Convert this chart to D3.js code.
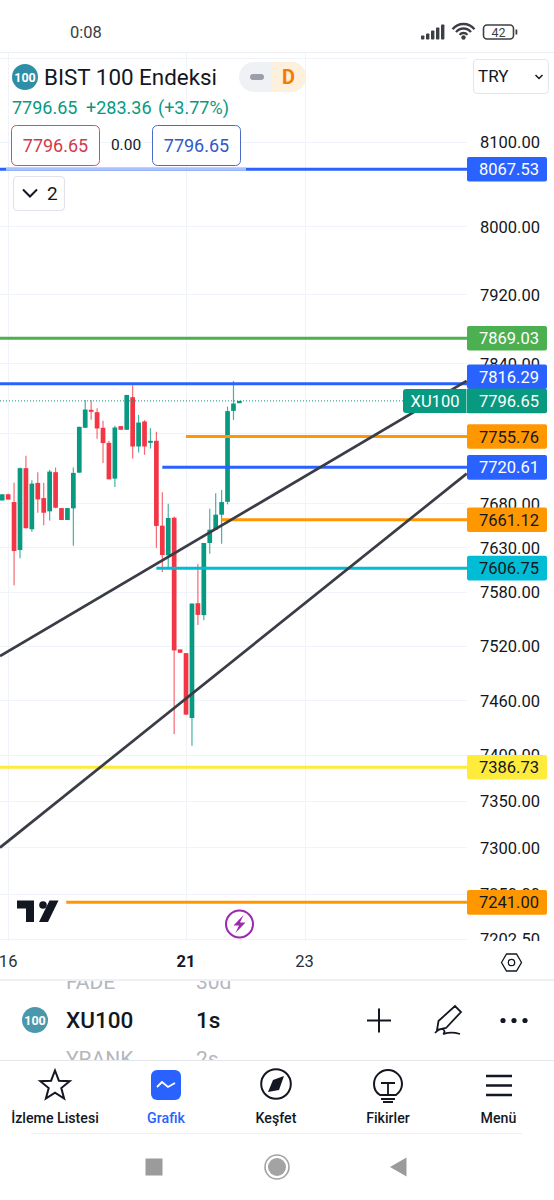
<!DOCTYPE html>
<html><head><meta charset="utf-8">
<script src="https://cdn.jsdelivr.net/npm/d3@7/dist/d3.min.js"></script>
<style>html,body{margin:0;padding:0;background:#fff}svg{display:block;font-family:Roboto,sans-serif}</style>
</head><body><div id="c"></div>
<script>
// ---- data ----
const opens  = [7683,7690,7681.2,7627.1,7719.7,7650.5,7702.9,7685.7,7670.7,7715.1,7674.4,7660.9,7674.1,7714.6,7765.8,7786.4,7783.7,7765.8,7748.6,7707.8,7767.7,7763.5,7800.9,7744.4,7773,7748.6,7750.9,7654.5,7621.2,7663.5,7516.1,7512,7440.5,7567.5,7554.2,7635,7650,7666.9,7681.5,7785.2,7794];
const highs  = [7690,7691,7703.2,7720.4,7733.8,7706,7715.1,7703.2,7718,7720.4,7674.4,7674.4,7720.4,7766.9,7797.8,7797.4,7788.3,7773.8,7750.9,7768,7767.7,7803.5,7814.5,7780.6,7774.6,7765.4,7761.2,7692.3,7679.3,7665,7516.1,7512,7567.1,7611.4,7635,7673.6,7691.1,7694.9,7790.1,7819.5,7796.65];
const lows   = [7683,7684,7587.7,7617.8,7651.6,7647.7,7669.1,7654.9,7660.3,7674.1,7660.9,7660.9,7632,7714.6,7765.8,7774.9,7753.2,7725.7,7707,7698.3,7763.5,7763.5,7730.7,7737.5,7734.9,7742.1,7629.7,7602.4,7607.2,7422.9,7512.4,7444.2,7410,7543.1,7548.6,7623,7650,7634.2,7678.6,7774.6,7794];
const closes = [7690,7684,7626,7719.7,7651.6,7702.1,7684.2,7669.1,7715.8,7674.8,7660.9,7674.4,7714.3,7766.9,7786.7,7784.1,7765,7748.3,7707,7766.1,7763.5,7803.5,7744.4,7771.8,7744.4,7750.9,7654.2,7621.5,7663.2,7515,7512.4,7444.2,7567.1,7554.5,7635,7650,7666.9,7681.2,7784.9,7793.6,7796.65];
const priceTicks = [8100,8000,7920,7840,7680,7630,7580,7520,7460,7400,7350,7300,7250,7202.5];
const hiddenGridPrices = [7760];
const dayTickBars = [1,31,51];
const dayTickLabels = ["16","21","23"];
const levelValues = [8067.53,7869.03,7816.29,7755.76,7720.61,7661.12,7606.75,7386.73,7241.00];
const levelStartBars = [-1,-1,-1,31,27,37,26,-1,10.8];
const levelColors = ["#2962ff","#4caf50","#2962ff","#ff9800","#2962ff","#ff9800","#00bcd4","#ffeb3b","#ff9800"];
const levelText = ["#fff","#fff","#fff","#131722","#fff","#131722","#131722","#131722","#131722"];
const trendA = [[-0.37,7508.7],[78.33,7819.7]];
const trendB = [[-0.37,7299.7],[78.33,7713.5]];
const lastPrice = 7796.65;

// ---- layout ----
const W=554,H=1200,axisX=467;
const svg=d3.select("#c").append("svg").attr("width",W).attr("height",H).attr("viewBox",`0 0 ${W} ${H}`);
const x=d3.scaleLinear().domain([0,78.33]).range([2.2,466.7]);
const y=d3.scaleLog().domain([8100,7202.5]).range([142,938.5]);
const GREEN="#089981",RED="#f23645",INK="#131722";
const t=(g,s,px,py,size,fill,anchor,weight)=>g.append("text").text(s).attr("x",px).attr("y",py).attr("font-size",size).attr("fill",fill).attr("text-anchor",anchor||"start").attr("font-weight",weight||400);

// grid
const grid=svg.append("g").attr("stroke","#f0f3fa").attr("stroke-width",1);
grid.selectAll("line.h").data(priceTicks.concat(hiddenGridPrices)).join("line").attr("class","h").attr("x1",0).attr("x2",axisX).attr("y1",d=>Math.round(y(d))+.5).attr("y2",d=>Math.round(y(d))+.5);
grid.append("line").attr("x1",0).attr("x2",axisX).attr("y1",58.5).attr("y2",58.5);
grid.selectAll("line.v").data(dayTickBars).join("line").attr("class","v").attr("y1",53).attr("y2",941).attr("x1",d=>Math.round(x(d))+.5).attr("x2",d=>Math.round(x(d))+.5);

// price axis labels
const axisG=svg.append("g").attr("transform",`translate(${540},0)`)
  .call(d3.axisRight(y).tickValues(priceTicks).tickFormat(d3.format(".2f")).tickSize(0).tickPadding(0));
axisG.select(".domain").remove();
axisG.selectAll("text").attr("x",0).attr("text-anchor","end").attr("font-size",16.5).attr("fill",INK).attr("font-family","Roboto,sans-serif").attr("dy","0.36em");

// candles
const idx=d3.range(opens.length);
const gc=svg.append("g");
gc.selectAll("line.w").data(idx).join("line").attr("class","w")
  .attr("x1",i=>x(i)).attr("x2",i=>x(i)).attr("y1",i=>y(highs[i])).attr("y2",i=>y(lows[i]))
  .attr("stroke",i=>closes[i]>=opens[i]?GREEN:RED).attr("stroke-width",1.2).attr("stroke-opacity",.75);
gc.selectAll("rect").data(idx).join("rect")
  .attr("x",i=>x(i)-2.35).attr("width",4.7)
  .attr("y",i=>y(Math.max(opens[i],closes[i])))
  .attr("height",i=>Math.max(1.5,Math.abs(y(opens[i])-y(closes[i]))))
  .attr("fill",i=>closes[i]>=opens[i]?GREEN:RED);

// level lines
const levels=d3.range(levelValues.length);
svg.append("g").selectAll("line").data(levels).join("line")
  .attr("x1",i=>levelStartBars[i]<0?0:x(levelStartBars[i])).attr("x2",axisX)
  .attr("y1",i=>y(levelValues[i])).attr("y2",i=>y(levelValues[i]))
  .attr("stroke",i=>levelColors[i]).attr("stroke-width",3);
svg.append("line").attr("x1",6).attr("x2",246).attr("y1",y(levelValues[0])).attr("y2",y(levelValues[0])).attr("stroke","#a9c0fb").attr("stroke-width",3);

// trend lines
const ln=d3.line().x(d=>x(d[0])).y(d=>y(d[1]));
svg.append("g").selectAll("path").data([trendA,trendB]).join("path").attr("d",ln).attr("fill","none").attr("stroke","#3a3d46").attr("stroke-width",2.7);

// last price dotted
svg.append("line").attr("x1",0).attr("x2",axisX).attr("y1",y(lastPrice)).attr("y2",y(lastPrice)).attr("stroke",GREEN).attr("stroke-width",1).attr("stroke-dasharray","1 2");

// flags
const drawFlag=(val,col,txt,dy)=>{const cy=y(val)+(dy||0);
  svg.append("rect").attr("x",467).attr("y",cy-12.3).attr("width",80).attr("height",24.6).attr("rx",2).attr("fill",col);
  t(svg,val.toFixed(2),539,cy+6,16.5,txt,"end");};
levels.forEach(i=>drawFlag(levelValues[i],levelColors[i],levelText[i],i===2?-7:0));
svg.append("rect").attr("x",403).attr("y",y(lastPrice)-12).attr("width",70).attr("height",24).attr("rx",3).attr("fill",GREEN);
drawFlag(lastPrice,GREEN,"#fff");
svg.append("line").attr("x1",466.5).attr("x2",466.5).attr("y1",y(lastPrice)-12).attr("y2",y(lastPrice)+12).attr("stroke","#fff").attr("stroke-opacity",.5);
t(svg,"XU100",435,y(lastPrice)+6,16.5,"#fff","middle");

// chart overlays: TV logo, bolt
svg.append("path").attr("fill",INK).attr("d","M17 900.5H34V922H26V908.5H17Z M58.5 900.5L48 922H39L49.5 900.5Z");
svg.append("circle").attr("cx",43).attr("cy",905).attr("r",3.8).attr("fill",INK);
svg.append("circle").attr("cx",239.5).attr("cy",924).attr("r",13.5).attr("fill","#fff").attr("stroke","#9c27b0").attr("stroke-width",2);
svg.append("path").attr("fill","#9c27b0").attr("d","M243.5 915L233.5 925.5H239L235.5 933L245.5 922.5H240Z");

// white masks for UI bands
svg.append("rect").attr("x",0).attr("y",941).attr("width",W).attr("height",H-941).attr("fill","#fff");

// status bar
const bar=svg.append("g");
bar.append("rect").attr("width",W).attr("height",52).attr("fill","#fff");
bar.append("line").attr("x1",0).attr("x2",W).attr("y1",52.5).attr("y2",52.5).attr("stroke","#eceef2");
t(bar,"0:08",70,38,16.5,"#3a3d44");
[[421,4],[426,6],[431,9],[436,12],[441,15]].forEach(([a,h])=>bar.append("rect").attr("x",a).attr("y",39.5-h).attr("width",3.4).attr("height",h).attr("rx",.8).attr("fill","#3c3f46"));
[14,9.5,5].forEach(r=>{const s=r*Math.sin(0.9),c=r*Math.cos(0.9);bar.append("path").attr("d",`M${463.5-s} ${38-c}A${r} ${r} 0 0 1 ${463.5+s} ${38-c}`).attr("fill","none").attr("stroke","#3c3f46").attr("stroke-width",2.3);});
bar.append("circle").attr("cx",463.5).attr("cy",37.5).attr("r",2.2).attr("fill","#3c3f46");
bar.append("rect").attr("x",483.5).attr("y",25).attr("width",30).attr("height",14).attr("rx",3.5).attr("fill","#fff").attr("stroke","#3c3f46").attr("stroke-width",1.6);
bar.append("rect").attr("x",515.5).attr("y",29.5).attr("width",1.8).attr("height",5).attr("fill","#3c3f46");
t(bar,"42",498.5,37,12.5,"#3c3f46","middle");

// legend header
const hd=svg.append("g");
hd.append("circle").attr("cx",25).attr("cy",77).attr("r",13).attr("fill","#2e8ea6");
t(hd,"100",25,81.5,12.5,"#fff","middle",700);
t(hd,"BIST 100 Endeksi",44,85,22.4,INK);
hd.append("rect").attr("x",239).attr("y",62).attr("width",67).attr("height",30).attr("rx",15).attr("fill","#eff1f4");
hd.append("path").attr("d","M272 62H291A15 15 0 0 1 291 92H272Z").attr("fill","#fdf0dc");
hd.append("rect").attr("x",250).attr("y",74).attr("width",14).attr("height",6).attr("rx",3).attr("fill","#9a9ea8");
t(hd,"D",288.5,84,20,"#f57c00","middle",700);
hd.append("rect").attr("x",473.5).attr("y",59.5).attr("width",75).attr("height",34).attr("rx",4).attr("fill","#fff").attr("stroke","#e4e6ec").attr("stroke-width",1.2);
t(hd,"TRY",478,82,17,INK);
hd.append("path").attr("d","M535.5 75L539 78.5L542.5 75").attr("fill","none").attr("stroke",INK).attr("stroke-width",1.5);
t(hd,"7796.65",12,113.5,18,GREEN);
t(hd,"+283.36",86,113.5,18,GREEN);
t(hd,"(+3.77%)",158,113.5,18,GREEN);
hd.append("rect").attr("x",11.5).attr("y",125.5).attr("width",88).attr("height",40).attr("rx",5).attr("fill","#fff").attr("stroke","#d0505f").attr("stroke-width",1);
t(hd,"7796.65",55.5,151.5,18,"#d13a4b","middle");
t(hd,"0.00",126,150,15.5,INK,"middle");
hd.append("rect").attr("x",152.5).attr("y",125.5).attr("width",88).attr("height",40).attr("rx",5).attr("fill","#fff").attr("stroke","#4a6cc4").attr("stroke-width",1);
t(hd,"7796.65",196.5,151.5,18,"#3159c9","middle");
hd.append("rect").attr("x",13.5).attr("y",176.5).attr("width",51).attr("height",34).attr("rx",4).attr("fill","#fff").attr("stroke","#e0e3e9").attr("stroke-width",1.2);
hd.append("path").attr("d","M23 189.5L30 196.5L37 189.5").attr("fill","none").attr("stroke",INK).attr("stroke-width",2);
t(hd,"2",47,200,19,INK);

// time axis
const tg=svg.append("g");
dayTickBars.forEach((b,i)=>t(tg,dayTickLabels[i],x(b),967,16.5,i===1?INK:"#2a2e39","middle",i===1?700:400));
tg.append("path").attr("d","M501.5 962.5L506.5 954H516.5L521.5 962.5L516.5 971H506.5Z").attr("fill","none").attr("stroke",INK).attr("stroke-width",1.3);
tg.append("circle").attr("cx",511.5).attr("cy",962.5).attr("r",3.2).attr("fill","none").attr("stroke",INK).attr("stroke-width",1.3);
tg.append("line").attr("x1",0).attr("x2",W).attr("y1",980).attr("y2",980).attr("stroke","#dfe1e6").attr("stroke-width",1.2);

// symbol row with clipped faded rows
const defs=svg.append("defs");
defs.append("clipPath").attr("id","rows").append("rect").attr("x",0).attr("y",981).attr("width",W).attr("height",79);
const rows=svg.append("g").attr("clip-path","url(#rows)");
t(rows,"FADE",66,989,21,"#b4b7be");t(rows,"30d",196,989,21,"#b4b7be");
t(rows,"YRANK",66,1066,21,"#b4b7be");t(rows,"2s",196,1066,21,"#b4b7be");
svg.append("circle").attr("cx",35).attr("cy",1020).attr("r",13).attr("fill","#4b98ad");
t(svg,"100",35,1024.5,12.5,"#fff","middle",700);
t(svg,"XU100",66,1028,22.5,INK,"start",500);
t(svg,"1s",196,1028,22.5,INK,"start",500);
svg.append("path").attr("d","M367 1020.5H391M379 1008.5V1032.5").attr("stroke",INK).attr("stroke-width",2);
svg.append("path").attr("d","M438.5 1021L455 1006L461 1012L446 1028L437 1030Z M435 1033C441 1026 446 1030 444 1033C442 1036 447 1030 460 1034").attr("fill","none").attr("stroke",INK).attr("stroke-width",1.8);
[503,514,525].forEach(a=>svg.append("circle").attr("cx",a).attr("cy",1020.5).attr("r",2.6).attr("fill",INK));

// bottom nav
svg.append("rect").attr("x",0).attr("y",1060).attr("width",W).attr("height",140).attr("fill","#fff");
svg.append("line").attr("x1",0).attr("x2",W).attr("y1",1060.5).attr("y2",1060.5).attr("stroke","#e4e6ea");
const navX=[55,166,276,388,498.5],navL=["İzleme Listesi","Grafik","Keşfet","Fikirler","Menü"];
navL.forEach((s,i)=>t(svg,s,navX[i],1123,14.2,i===1?"#2962ff":INK,"middle",500));
const star=d3.range(10).map(k=>{const r=k%2?6.6:15.5,a=-Math.PI/2+k*Math.PI/5;return[55+r*Math.cos(a),1086+r*Math.sin(a)];});
svg.append("path").attr("d",d3.line()(star)+"Z").attr("fill","none").attr("stroke",INK).attr("stroke-width",2);
svg.append("rect").attr("x",151).attr("y",1070).attr("width",30).attr("height",30).attr("rx",6).attr("fill","#2962ff");
svg.append("path").attr("d","M157 1087L162 1082L168 1087L175 1083").attr("fill","none").attr("stroke","#fff").attr("stroke-width",1.8);
svg.append("circle").attr("cx",276).attr("cy",1084).attr("r",14.8).attr("fill","none").attr("stroke",INK).attr("stroke-width",2);
svg.append("path").attr("d","M284 1076L279 1090L268 1092L273 1080Z").attr("fill",INK);
svg.append("path").attr("d","M380 1095C375 1092 374 1088 374 1084A14 14 0 0 1 402 1084C402 1088 400 1092 396 1095Z").attr("fill","none").attr("stroke",INK).attr("stroke-width",2);
svg.append("path").attr("d","M381 1083H395M388 1083V1094M381 1099H395M383 1102H393").attr("fill","none").attr("stroke",INK).attr("stroke-width",1.8);
svg.append("path").attr("d","M486 1076H512M486 1085.5H512M486 1095H512").attr("stroke",INK).attr("stroke-width",2.6);
svg.append("line").attr("x1",31).attr("x2",522).attr("y1",1133.5).attr("y2",1133.5).attr("stroke","#eef0f3");

// android buttons
svg.append("rect").attr("x",145.5).attr("y",1158.5).attr("width",17).attr("height",17).attr("fill","#9b9b9b");
svg.append("circle").attr("cx",277).attr("cy",1167).attr("r",12).attr("fill","none").attr("stroke","#a3a3a3").attr("stroke-width",1.6);
svg.append("circle").attr("cx",277).attr("cy",1167).attr("r",9).attr("fill","#a3a3a3");
svg.append("path").attr("d","M406.5 1157.5V1176.5L390 1167Z").attr("fill","#9b9b9b");
</script></body></html>
